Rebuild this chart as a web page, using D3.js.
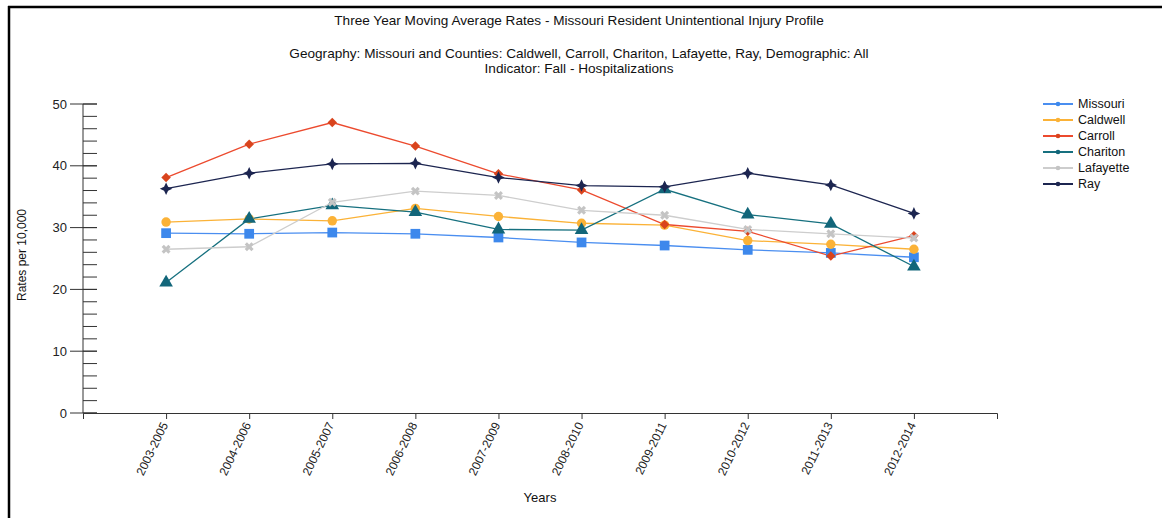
<!DOCTYPE html>
<html>
<head>
<meta charset="utf-8">
<script src="https://cdn.jsdelivr.net/npm/d3@7"></script>
<style>
  html, body { margin: 0; padding: 0; background: #fff; }
  svg { display: block; font-family: "Liberation Sans", Arial, sans-serif; }
</style>
</head>
<body>
<svg id="chart" width="1162" height="518"></svg>
<script>
// Three-year moving average periods
const periods = ["2003-2005", "2004-2006", "2005-2007", "2006-2008", "2007-2009",
                 "2008-2010", "2009-2011", "2010-2012", "2011-2013", "2012-2014"];

// Fall hospitalization rates per 10,000
const missouri  = [29.1, 29.0, 29.2, 29.0, 28.4, 27.6, 27.1, 26.4, 25.9, 25.2];
const caldwell  = [30.9, 31.4, 31.1, 33.1, 31.8, 30.7, 30.4, 27.9, 27.3, 26.5];
const carroll   = [38.1, 43.5, 47.0, 43.2, 38.7, 36.1, 30.5, 29.4, 25.4, 28.7];
const chariton  = [21.1, 31.4, 33.6, 32.5, 29.7, 29.6, 36.2, 32.1, 30.6, 23.7];
const lafayette = [26.5, 26.9, 34.1, 35.9, 35.2, 32.8, 32.0, 29.7, 29.0, 28.3];
const ray       = [36.3, 38.8, 40.3, 40.4, 38.1, 36.8, 36.6, 38.8, 36.9, 32.3];

const seriesNames = ["Missouri", "Caldwell", "Carroll", "Chariton", "Lafayette", "Ray"];
const seriesValues = [missouri, caldwell, carroll, chariton, lafayette, ray];
const yTicks = [0, 10, 20, 30, 40, 50];

const lineColors   = ["#4a8ef0", "#fbb237", "#ec4a2e", "#16707f", "#cdcdcd", "#1c2550"];
const markerColors = ["#3d88ec", "#fbb237", "#d9441d", "#12667a", "#c4c4c4", "#1c2550"];

// four-pointed star used for the Ray series
const star4 = {
  draw(ctx, size) {
    const r = Math.sqrt(size) * 0.75, w = r * 0.32;
    ctx.moveTo(0, -r); ctx.lineTo(w, -w); ctx.lineTo(r, 0); ctx.lineTo(w, w);
    ctx.lineTo(0, r); ctx.lineTo(-w, w); ctx.lineTo(-r, 0); ctx.lineTo(-w, -w);
    ctx.closePath();
  }
};
const markerTypes  = [d3.symbolSquare, d3.symbolCircle, d3.symbolSquare,
                      d3.symbolTriangle, d3.symbolCross, star4];
const markerSizes  = [95, 70, 45, 80, 50, 70];
const markerRotate = [0, 0, 45, 0, 45, 0];

const svg = d3.select("#chart");

// outer frame
svg.append("line").attr("x1", 8).attr("x2", 1162).attr("y1", 7).attr("y2", 7)
  .attr("stroke", "#000").attr("stroke-width", 2.5);
svg.append("line").attr("x1", 9).attr("x2", 9).attr("y1", 6).attr("y2", 518)
  .attr("stroke", "#000").attr("stroke-width", 2.5);

// titles
const titleG = svg.append("g").attr("fill", "#111").attr("text-anchor", "middle")
  .style("font-size", "13.6px");
titleG.append("text").attr("x", 579).attr("y", 25)
  .text("Three Year Moving Average Rates - Missouri Resident Unintentional Injury Profile");
titleG.append("text").attr("x", 579).attr("y", 58)
  .text("Geography: Missouri and Counties: Caldwell, Carroll, Chariton, Lafayette, Ray, Demographic: All");
titleG.append("text").attr("x", 579).attr("y", 73)
  .text("Indicator: Fall - Hospitalizations");

// scales
const x = d3.scalePoint().domain(periods).range([83, 997]).padding(1);
const y = d3.scaleLinear().domain([0, 50]).range([413, 104]);

// y axis: major ticks with labels, minor ticks every 2
const yAxisG = svg.append("g").attr("transform", "translate(83,0)");
yAxisG.append("line").attr("y1", y(0)).attr("y2", y(50)).attr("stroke", "#333");
yAxisG.selectAll("line.minor").data(d3.range(0, 51, 2)).enter().append("line")
  .attr("class", "minor")
  .attr("x1", 0).attr("x2", 14).attr("y1", d => y(d)).attr("y2", d => y(d))
  .attr("stroke", "#333");
yAxisG.selectAll("line.major").data(yTicks).enter().append("line")
  .attr("class", "major")
  .attr("x1", -13).attr("x2", 14).attr("y1", d => y(d)).attr("y2", d => y(d))
  .attr("stroke", "#333");
yAxisG.selectAll("text").data(yTicks).enter().append("text")
  .attr("x", -16).attr("y", d => y(d)).attr("dy", "0.35em")
  .attr("text-anchor", "end").attr("fill", "#222").style("font-size", "13px")
  .text(d => d);

// x axis
const xAxis = d3.axisBottom(x).tickSize(6).tickSizeOuter(6);
const xAxisG = svg.append("g").attr("transform", `translate(0,${y(0)})`).call(xAxis);
xAxisG.select(".domain").attr("stroke", "#333");
xAxisG.selectAll(".tick line").attr("stroke", "#333");
xAxisG.selectAll(".tick text")
  .attr("fill", "#222")
  .style("font-size", "12px")
  .attr("text-anchor", "end")
  .attr("dy", "0.35em")
  .attr("y", 0)
  .attr("transform", "translate(-2,10) rotate(-64)");
xAxisG.attr("font-family", null);

// axis titles
svg.append("text").attr("x", 540).attr("y", 502).attr("text-anchor", "middle")
  .attr("fill", "#111").style("font-size", "13px").text("Years");
svg.append("text").attr("transform", "translate(26,255) rotate(-90)")
  .attr("text-anchor", "middle").attr("fill", "#111").style("font-size", "12px")
  .text("Rates per 10,000");

// series lines and markers
const line = d3.line().x((d, i) => x(periods[i])).y(d => y(d));
seriesValues.forEach((vals, s) => {
  svg.append("path").datum(vals).attr("d", line)
    .attr("fill", "none").attr("stroke", lineColors[s]).attr("stroke-width", 1.3);
});
seriesValues.forEach((vals, s) => {
  const sym = d3.symbol().type(markerTypes[s]).size(markerSizes[s]);
  svg.append("g").selectAll("path").data(vals).enter().append("path")
    .attr("d", sym)
    .attr("transform", (d, i) => `translate(${x(periods[i])},${y(d)}) rotate(${markerRotate[s]})`)
    .attr("fill", markerColors[s]);
});

// legend
const legend = svg.append("g").attr("transform", "translate(1043,104)");
seriesNames.forEach((name, s) => {
  const g = legend.append("g").attr("transform", `translate(0,${s * 16})`);
  g.append("line").attr("x1", 0).attr("x2", 30).attr("stroke", lineColors[s]).attr("stroke-width", 2);
  g.append("circle").attr("cx", 15).attr("r", 2.3).attr("fill", markerColors[s]);
  g.append("text").attr("x", 35).attr("dy", "0.35em").attr("fill", "#111")
    .style("font-size", "12.5px").text(name);
});
</script>
</body>
</html>
